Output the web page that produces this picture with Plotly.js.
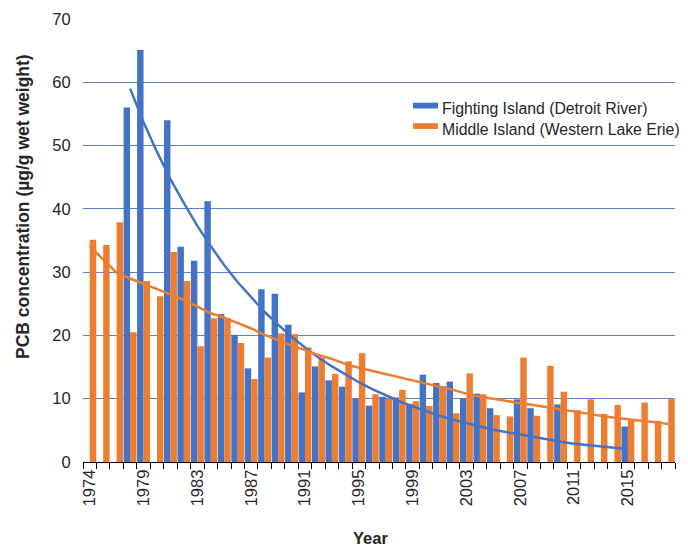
<!DOCTYPE html>
<html>
<head>
<meta charset="utf-8">
<script src="https://cdn.plot.ly/plotly-3.0.1.min.js"></script>
<style>
  html, body { margin: 0; padding: 0; background: #ffffff; }
  #chart { width: 688px; height: 546px; }
</style>
</head>
<body>
<div id="chart"></div>
<script>
// Sampling years (category axis; 1976 not sampled)
var years = ["1974","1975","1977","1978","1979","1980","1981","1982","1983","1984",
             "1985","1986","1987","1988","1989","1990","1991","1992","1993","1994",
             "1995","1996","1997","1998","1999","2000","2001","2002","2003","2004",
             "2005","2006","2007","2008","2009","2010","2011","2012","2013","2014",
             "2015","2016","2017","2018"];

// Tick labels shown on the category axis
var labeledYears = ["1974","1979","1983","1987","1991","1995","1999","2003","2007","2011","2015"];

// Series names
var seriesNames = ["Fighting Island (Detroit River)", "Middle Island (Western Lake Erie)"];

// Fighting Island (Detroit River), PCB µg/g wet weight
var fightingIsland = [null, null, null, 56.0, 65.1, null, 54.0, 34.0, 31.8, 41.2,
                      23.4, 20.1, 14.8, 27.3, 26.6, 21.7, 11.0, 15.1, 12.9, 11.9,
                      10.0, 8.9, 10.3, 10.2, 9.2, 13.8, 12.5, 12.7, 10.0, 10.8,
                      8.5, null, 9.9, 8.5, null, 9.1, null, null, null, null,
                      5.6, null, null, null];

// Middle Island (Western Lake Erie), PCB µg/g wet weight
var middleIsland = [35.1, 34.3, 37.9, 20.5, 28.6, 26.2, 33.2, 28.6, 18.3, 22.7,
                    22.7, 18.8, 13.1, 16.5, 20.3, 20.2, 18.1, 16.5, 13.9, 15.9,
                    17.2, 10.7, 10.0, 11.4, 9.6, 8.85, 12.0, 7.7, 14.0, 10.7,
                    7.4, 7.2, 16.5, 7.3, 15.2, 11.1, 8.2, 9.9, 7.6, 9.0,
                    6.6, 9.4, 6.5, 10.0];

// Trend curves
var fightingTrendYears = years.slice(3, 41);
var fightingTrend = [59.0, 53.7, 49.0, 44.7, 40.9, 37.3, 34.1, 31.1, 28.4, 26.0,
                     23.7, 21.7, 19.8, 18.1, 16.5, 15.1, 13.8, 12.6, 11.5, 10.5,
                     9.6, 8.8, 8.0, 7.3, 6.7, 6.1, 5.6, 5.1, 4.7, 4.3,
                     3.9, 3.6, 3.2, 2.9, 2.65, 2.45, 2.25, 2.05];

var middleTrend = [34.1, 32.0, 29.9, 29.0, 28.2, 27.4, 26.5, 25.6, 24.6, 23.5,
                   22.8, 22.0, 21.1, 20.1, 19.2, 18.4, 17.7, 16.9, 16.3, 15.5,
                   14.9, 14.4, 13.9, 13.4, 13.0, 12.4, 11.9, 11.4, 10.8, 10.3,
                   10.0, 9.6, 9.3, 9.0, 8.6, 8.3, 8.0, 7.6, 7.3, 7.0,
                   6.7, 6.5, 6.3, 6.0];

var BLUE = "#4472C4";
var ORANGE = "#ED7D31";
var TEXT = "#262626";
var FONT = "Liberation Sans, Arial, sans-serif";

// plot area geometry (pixels) for placing the legend block
var M = { l: 83, r: 13, t: 19, b: 84 };
var W = 688, H = 546;
var PW = W - M.l - M.r, PH = H - M.t - M.b;
function px2x(px) { return (px - M.l) / PW; }
function px2y(py) { return (H - M.b - py) / PH; }

var tickText = years.map(function (y) { return labeledYears.indexOf(y) >= 0 ? y : ""; });

var traces = [
  {
    type: "bar", name: seriesNames[0],
    x: years, y: fightingIsland,
    marker: { color: BLUE }, hoverinfo: "x+y"
  },
  {
    type: "bar", name: seriesNames[1],
    x: years, y: middleIsland,
    marker: { color: ORANGE }, hoverinfo: "x+y"
  },
  {
    type: "scatter", mode: "lines", showlegend: false,
    x: fightingTrendYears, y: fightingTrend,
    line: { color: BLUE, width: 2.5 }, hoverinfo: "skip"
  },
  {
    type: "scatter", mode: "lines", showlegend: false,
    x: years, y: middleTrend,
    line: { color: ORANGE, width: 2.5 }, hoverinfo: "skip"
  }
];

// legend block (swatch + label) drawn to match the reference placement
var legendRows = [
  { name: seriesNames[0], color: BLUE, top: 102.7, bottom: 108.5, textY: 108 },
  { name: seriesNames[1], color: ORANGE, top: 123.2, bottom: 129.0, textY: 129.5 }
];
var shapes = legendRows.map(function (r) {
  return {
    type: "rect", xref: "paper", yref: "paper",
    x0: px2x(413), x1: px2x(438), y0: px2y(r.bottom), y1: px2y(r.top),
    fillcolor: r.color, line: { width: 0 }
  };
});
var legendText = legendRows.map(function (r) {
  return {
    text: r.name, xref: "paper", yref: "paper",
    x: px2x(440), y: px2y(r.textY), xanchor: "left", yanchor: "middle",
    showarrow: false, font: { family: FONT, size: 15.8, color: TEXT }
  };
});

var layout = {
  width: W, height: H,
  margin: M,
  paper_bgcolor: "#ffffff", plot_bgcolor: "#ffffff",
  font: { family: FONT, color: TEXT },
  barmode: "group", bargap: 0.04, bargroupgap: 0,
  showlegend: false,
  xaxis: {
    type: "category",
    categoryorder: "array", categoryarray: years,
    tickmode: "array", tickvals: years, ticktext: tickText,
    tickson: "boundaries",
    ticks: "outside", ticklen: 6, tickcolor: "#000000", tickwidth: 1,
    tickangle: -90,
    tickfont: { family: FONT, size: 16.5, color: TEXT },
    showline: true, linecolor: "#000000", linewidth: 1,
    showgrid: false, zeroline: false,
    range: [-0.5, years.length - 0.5]
  },
  yaxis: {
    range: [0, 70], dtick: 10, tick0: 0,
    showgrid: true, gridcolor: "#5A82CB", gridwidth: 1,
    zeroline: false, showline: false,
    ticks: "outside", ticklen: 8, tickcolor: "rgba(0,0,0,0)",
    tickfont: { family: FONT, size: 16.5, color: TEXT }
  },
  shapes: shapes,
  annotations: [
    {
      text: "<b>PCB concentration (µg/g wet weight)</b>",
      xref: "paper", yref: "paper", x: 0, y: px2y(207),
      xanchor: "center", yanchor: "middle", xshift: -60,
      textangle: -90, showarrow: false,
      font: { family: FONT, size: 17.5, color: TEXT }
    },
    {
      text: "<b>Year</b>",
      xref: "paper", yref: "paper", x: px2x(370), y: px2y(538),
      xanchor: "center", yanchor: "middle",
      showarrow: false,
      font: { family: FONT, size: 16.5, color: TEXT }
    }
  ].concat(legendText)
};

Plotly.newPlot("chart", traces, layout, { displayModeBar: false, staticPlot: true });
</script>
</body>
</html>
